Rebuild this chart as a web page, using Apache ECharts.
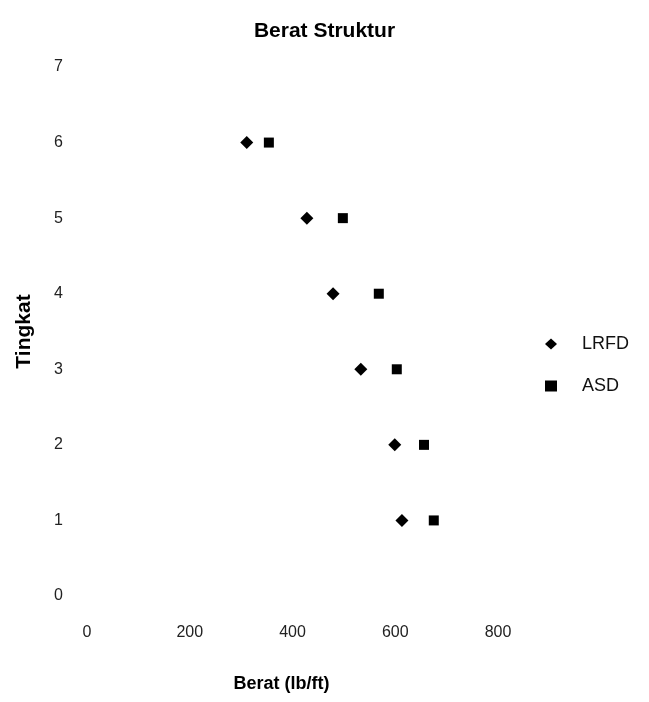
<!DOCTYPE html>
<html>
<head>
<meta charset="utf-8">
<script src="https://cdn.jsdelivr.net/npm/echarts@6/dist/echarts.min.js"></script>
<style>
  html, body { margin: 0; padding: 0; background: #fff; }
  #chart { width: 649px; height: 702px; }
</style>
</head>
<body>
<div id="chart"></div>
<script>
// Tingkat (lantai) dan berat struktur per tingkat
const levels = [6, 5, 4, 3, 2, 1];
const lrfd = [311, 428, 479, 533, 599, 613];
const asd = [354, 498, 568, 603, 656, 675];

const chart = echarts.init(document.getElementById('chart'));

const font = 'Liberation Sans, Arial, sans-serif';

const option = {
    backgroundColor: '#fff',
    animation: false,
    title: {
        text: 'Berat Struktur',
        left: 'center',
        top: 16,
        textStyle: { fontFamily: font, fontSize: 21, fontWeight: 'bold', color: '#000' }
    },
    legend: {
        orient: 'vertical',
        left: 540,
        top: 330,
        itemGap: 24,
        itemWidth: 12,
        itemHeight: 11,
        data: [
            { name: 'LRFD', icon: 'diamond' },
            { name: 'ASD', icon: 'rect' }
        ],
        textStyle: { fontFamily: font, fontSize: 18, color: '#111', padding: [0, 0, 0, 20] }
    },
    grid: { left: 87, right: 151, top: 67, bottom: 106 },
    xAxis: {
        type: 'value',
        min: 0, max: 800, interval: 200,
        name: 'Berat (lb/ft)',
        nameLocation: 'middle',
        nameGap: 79,
        nameTextStyle: { fontFamily: font, fontSize: 18, fontWeight: 'bold', color: '#000', padding: [0, 22, 0, 0] },
        axisLine: { show: false },
        axisTick: { show: false },
        splitLine: { show: false },
        axisLabel: { fontFamily: font, fontSize: 16, color: '#222', margin: 29 }
    },
    yAxis: {
        type: 'value',
        min: 0, max: 7, interval: 1,
        name: 'Tingkat',
        nameLocation: 'middle',
        nameGap: 52,
        nameTextStyle: { fontFamily: font, fontSize: 21, fontWeight: 'bold', color: '#000' },
        axisLine: { show: false },
        axisTick: { show: false },
        splitLine: { show: false },
        axisLabel: { fontFamily: font, fontSize: 16, color: '#222', margin: 24 }
    },
    series: [
        {
            name: 'LRFD',
            type: 'scatter',
            symbol: 'diamond',
            symbolSize: 13,
            itemStyle: { color: '#000', opacity: 1 },
            data: lrfd.map((v, i) => [v, levels[i]])
        },
        {
            name: 'ASD',
            type: 'scatter',
            symbol: 'rect',
            symbolSize: 10,
            itemStyle: { color: '#000', opacity: 1 },
            data: asd.map((v, i) => [v, levels[i]])
        }
    ]
};
chart.setOption(option);
</script>
</body>
</html>
